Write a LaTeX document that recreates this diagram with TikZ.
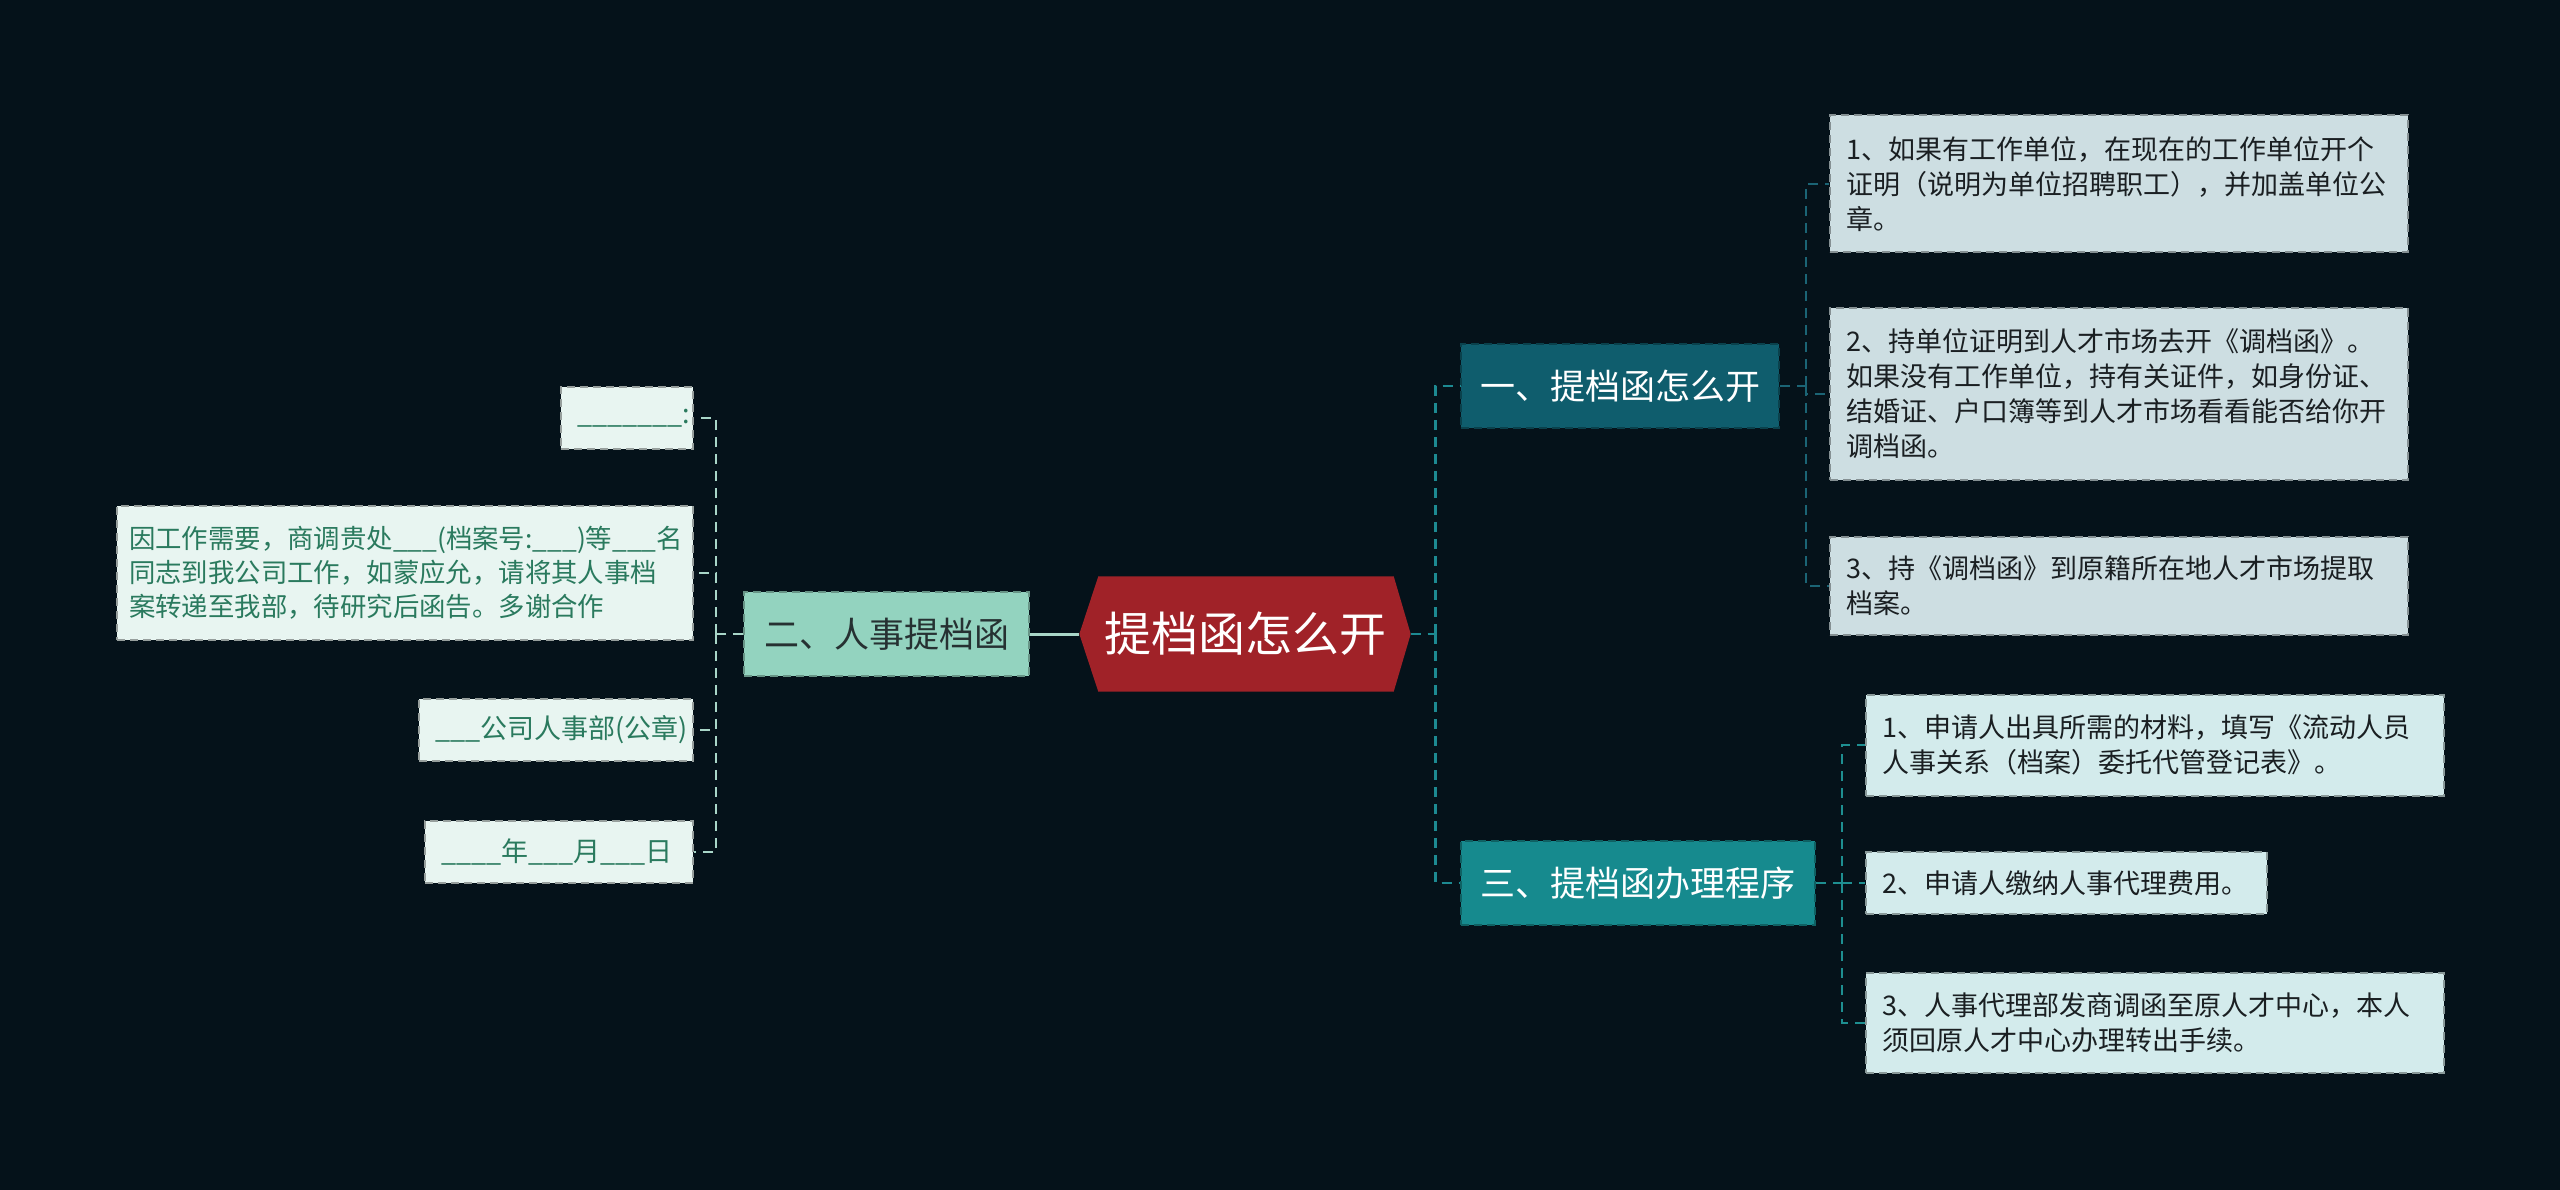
\documentclass[tikz,border=0pt]{standalone}
\usepackage{fontspec}
\setmainfont{Noto Sans CJK SC}
\usetikzlibrary{calc}
\pgfdeclarelayer{bg}
\pgfsetlayers{bg,main}
\definecolor{bgc}{HTML}{05121A}
\definecolor{ctrc}{HTML}{A02228}
\definecolor{bonec}{HTML}{0F5D6D}
\definecolor{bthreec}{HTML}{168A8E}
\definecolor{btwoc}{HTML}{93D3BF}
\definecolor{leafonec}{HTML}{CDDEE2}
\definecolor{leafthreec}{HTML}{D3EBEC}
\definecolor{leaftwoc}{HTML}{E8F5F1}
\definecolor{lefttext}{HTML}{2A7A5E}
\definecolor{darktext}{HTML}{1A1F22}
\definecolor{lineL}{HTML}{A9D6C8}
\definecolor{lineR}{HTML}{1D8A92}
\definecolor{lineone}{HTML}{1B6475}
\definecolor{linethree}{HTML}{1E8F91}
\begin{document}
\begin{tikzpicture}[x=1pt,y=-1pt,
  ctr/.style={minimum width=331pt,minimum height=115pt,inner sep=0pt,text=white,font=\fontsize{47}{50}\selectfont},
  brnode/.style={draw=#1!70!black,dashed,dash pattern=on 8pt off 5pt,line width=2pt,fill=#1,text=white,minimum height=84pt,inner sep=0pt,font=\fontsize{35}{40}\selectfont},
  leafbox/.style={dashed,dash pattern=on 8pt off 5pt,line width=2pt,inner xsep=16pt,inner ysep=0pt,align=left,font=\fontsize{27}{35}\selectfont},
  leafR/.style={leafbox,draw=leafonec!65!black,fill=leafonec,text=darktext,anchor=west},
  leafT/.style={leafbox,draw=leafthreec!65!black,fill=leafthreec,text=darktext,anchor=west},
  leafL/.style={leafbox,draw=leaftwoc!65!black,fill=leaftwoc,text=lefttext,anchor=east},
  connbase/.style={dashed,dash pattern=on 10pt off 7pt,line width=2.5pt},
  connL/.style={connbase,draw=lineL},
  connR/.style={connbase,draw=lineR},
  connone/.style={connbase,draw=lineone},
  connthree/.style={connbase,draw=linethree}]
\begin{pgfonlayer}{bg}
\fill[bgc] (0,0) rectangle (2560,1190);
\end{pgfonlayer}
\useasboundingbox (0,0) rectangle (2560,1190);

% centre
\node[ctr] (c) at (1245,634) {提档函怎么开};
\begin{pgfonlayer}{bg}
\fill[ctrc] ([xshift=19pt]c.north west) -- ([xshift=-17pt]c.north east) -- (c.east)
  -- ([xshift=-17pt]c.south east) -- ([xshift=19pt]c.south west) -- (c.west) -- cycle;
\end{pgfonlayer}

% branches
\node[brnode=bonec,minimum width=318pt,anchor=west] (b1) at (1460,386) {一、提档函怎么开};
\node[brnode=bthreec,minimum width=354pt,anchor=west] (b3) at (1460,883) {三、提档函办理程序};
\node[brnode=btwoc,minimum width=285pt,anchor=east,text=darktext!90!btwoc] (b2) at (1030,634) {二、人事提档函};

% right leaves, branch 1
\node[leafR,text width=546pt,minimum height=137pt] (l11) at (1829,184)
  {1、如果有工作单位，在现在的工作单位开个\\证明（说明为单位招聘职工），并加盖单位公\\章。};
\node[leafR,text width=546pt,minimum height=171pt] (l12) at (1829,394)
  {2、持单位证明到人才市场去开《调档函》。\\如果没有工作单位，持有关证件，如身份证、\\结婚证、户口簿等到人才市场看看能否给你开\\调档函。};
\node[leafR,text width=546pt,minimum height=98pt] (l13) at (1829,586)
  {3、持《调档函》到原籍所在地人才市场提取\\档案。};

% right leaves, branch 3
\node[leafT,text width=546pt,minimum height=101pt] (l31) at (1865,745)
  {1、申请人出具所需的材料，填写《流动人员\\人事关系（档案）委托代管登记表》。};
\node[leafT,text width=369pt,minimum height=62pt] (l32) at (1865,883)
  {2、申请人缴纳人事代理费用。};
\node[leafT,text width=546pt,minimum height=100pt] (l33) at (1865,1023)
  {3、人事代理部发商调函至原人才中心，本人\\须回原人才中心办理转出手续。};

% left leaves
\node[leafL,text width=100pt,minimum height=62pt] (a1) at (694,418) {\_\_\_\_\_\_\_:};
\node[leafL,text width=552pt,inner xsep=12pt,minimum height=134pt,font=\fontsize{26.4}{34}\selectfont] (a2) at (694,573)
  {因工作需要，商调贵处\_\_\_(档案号:\_\_\_)等\_\_\_名\\同志到我公司工作，如蒙应允，请将其人事档\\案转递至我部，待研究后函告。多谢合作};
\node[leafL,text width=242pt,minimum height=62pt] (a3) at (694,730) {\_\_\_公司人事部(公章)};
\node[leafL,text width=236pt,minimum height=62pt] (a4) at (694,852) {\_\_\_\_年\_\_\_月\_\_\_日};

% connectors: centre
\draw[lineL,line width=3pt] (c.west) -- (b2.east);
\draw[connR] (c.east) -- ++(25,0) coordinate (tr);
\draw[connR] (tr) |- (b1.west);
\draw[connR] (tr) |- (b3.west);

% branch 1
\draw[connone] (b1.east) -- ++(26,0) coordinate (t1);
\draw[connone] (t1) |- (l11.west);
\draw[connone] (t1) |- (l12.west);
\draw[connone] (t1) |- (l13.west);

% branch 3
\draw[connthree] (b3.east) -- ++(26,0) coordinate (t3);
\draw[connthree] (t3) |- (l31.west);
\draw[connthree] (t3) |- (l32.west);
\draw[connthree] (t3) |- (l33.west);

% branch 2
\draw[connL] (b2.west) -- ++(-27,0) coordinate (t2);
\draw[connL] (t2) |- (a1.east);
\draw[connL] (t2) |- (a2.east);
\draw[connL] (t2) |- (a3.east);
\draw[connL] (t2) |- (a4.east);
\end{tikzpicture}
\end{document}
